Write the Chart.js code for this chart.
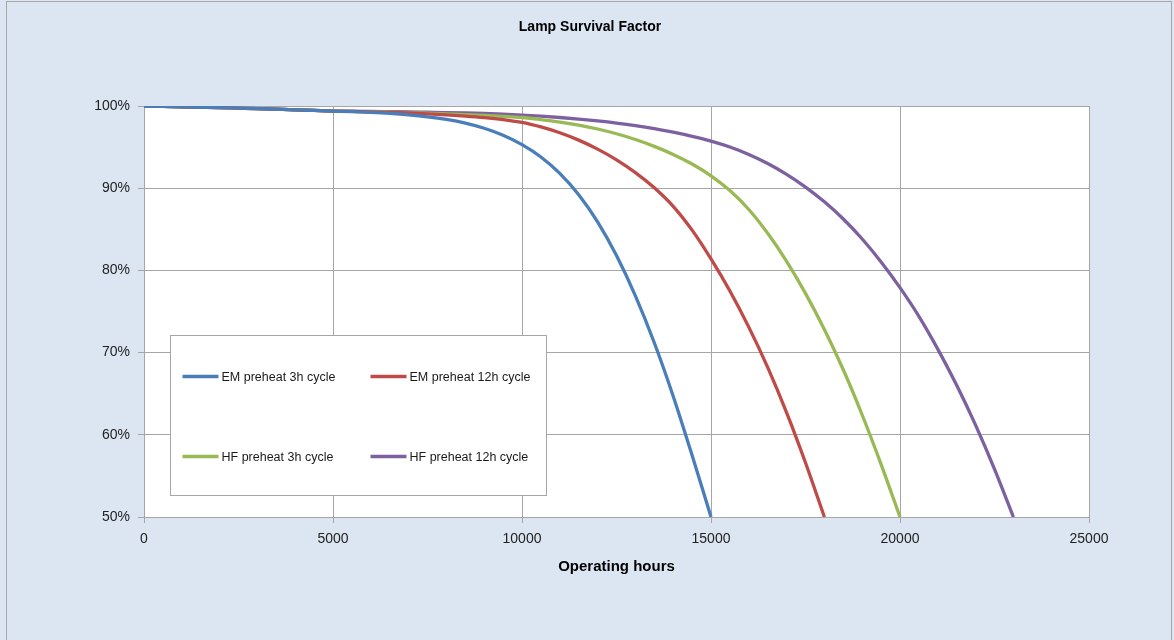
<!DOCTYPE html>
<html lang="en">
<head>
  <meta charset="UTF-8" />
  <title>Lamp Survival Factor</title>
  <script src="https://cdn.jsdelivr.net/npm/chart.js"></script>
  <style>
    html, body { margin: 0; padding: 0; background: #dce6f2; }
    #wrap { width: 1174px; height: 640px; }
  </style>
</head>
<body>

<div id="wrap"><canvas id="survivalChart" width="1174" height="640"></canvas></div>

<script>
  // operating hours, every 500 h
  const hours = [
    0, 500, 1000, 1500, 2000, 2500, 3000, 3500, 4000, 4500, 5000,
    5500, 6000, 6500, 7000, 7500, 8000, 8500, 9000, 9500, 10000,
    10500, 11000, 11500, 12000, 12500, 13000, 13500, 14000, 14500, 15000,
    15500, 16000, 16500, 17000, 17500, 18000, 18500, 19000, 19500, 20000,
    20500, 21000, 21500, 22000, 22500, 23000
  ];

  // survival in % (each series stops at 50 %)
  const emPreheat3h = [
    100, 99.95, 99.9, 99.85, 99.8, 99.74, 99.68, 99.61, 99.54, 99.46, 99.38,
    99.31, 99.22, 99.1, 98.93, 98.69, 98.36, 97.91, 97.29, 96.44, 95.3,
    93.8, 91.8, 89.2, 85.9, 81.8, 76.9, 71.2, 64.7, 57.5, 50
  ];
  const emPreheat12h = [
    100, 99.95, 99.9, 99.85, 99.8, 99.74, 99.68, 99.61, 99.54, 99.46, 99.38,
    99.34, 99.29, 99.23, 99.15, 99.05, 98.93, 98.78, 98.59, 98.34, 98.0,
    97.45, 96.75, 95.85, 94.75, 93.45, 91.9, 90.05, 87.8, 84.9, 81.4,
    77.5, 73.1, 68.2, 62.7, 56.6, 50
  ];
  const hfPreheat3h = [
    100, 99.95, 99.9, 99.85, 99.8, 99.74, 99.68, 99.61, 99.54, 99.46, 99.38,
    99.35, 99.31, 99.26, 99.2, 99.13, 99.05, 98.96, 98.86, 98.74, 98.6,
    98.35, 98.05, 97.67, 97.2, 96.62, 95.92, 95.09, 94.11, 92.94, 91.51,
    89.71, 87.41, 84.51, 81.11, 77.21, 72.81, 67.91, 62.41, 56.41, 50
  ];
  const hfPreheat12h = [
    100, 99.95, 99.9, 99.85, 99.8, 99.74, 99.68, 99.61, 99.54, 99.46, 99.38,
    99.36, 99.34, 99.31, 99.28, 99.24, 99.2, 99.15, 99.09, 99.01, 98.9,
    98.76, 98.6, 98.41, 98.19, 97.93, 97.62, 97.25, 96.81, 96.31, 95.73,
    95.01, 94.11, 93.01, 91.69, 90.14, 88.34, 86.25, 83.82, 81.03, 77.9,
    74.41, 70.42, 66.02, 61.17, 55.82, 50
  ];

  const seriesNames = ['EM preheat 3h cycle', 'EM preheat 12h cycle', 'HF preheat 3h cycle', 'HF preheat 12h cycle'];
  const seriesValues = [emPreheat3h, emPreheat12h, hfPreheat3h, hfPreheat12h];
  const seriesColors = ['#4a7ebb', '#be4b48', '#98b954', '#7d60a0'];

  const xTicks = [0, 5000, 10000, 15000, 20000, 25000];
  const yTicks = [50, 60, 70, 80, 90, 100];
  const chartTitle = 'Lamp Survival Factor';

  const FONT = "'Liberation Sans', Arial, sans-serif";
  const GRID = '#a6a6a6';

  // background, outer frame, white plot area and the title
  const frame = {
    id: 'frame',
    beforeDraw(chart) {
      const { ctx, chartArea: a, width, height } = chart;
      ctx.save();
      ctx.fillStyle = '#dce6f2';
      ctx.fillRect(0, 0, width, height);
      ctx.strokeStyle = GRID;
      ctx.lineWidth = 1;
      ctx.strokeRect(6.5, 1.5, width - 9, height + 10);
      ctx.fillStyle = '#ffffff';
      ctx.fillRect(a.left, a.top, a.right - a.left, a.bottom - a.top);
      ctx.fillStyle = '#000';
      ctx.font = 'bold 14px ' + FONT;
      ctx.textAlign = 'center';
      ctx.textBaseline = 'middle';
      ctx.fillText(chartTitle, width / 2 + 3, 27);
      ctx.restore();
    }
  };

  // boxed legend inside the plot, two columns
  const boxLegend = {
    id: 'boxLegend',
    afterDatasetsDraw(chart) {
      const { ctx, chartArea: a } = chart;
      const x0 = Math.round(a.left + 26) + 0.5;
      const y0 = Math.round(a.top + 229) + 0.5;
      ctx.save();
      ctx.fillStyle = '#ffffff';
      ctx.fillRect(x0, y0, 376, 160);
      ctx.strokeStyle = GRID;
      ctx.lineWidth = 1;
      ctx.strokeRect(x0, y0, 376, 160);
      ctx.font = '12.5px ' + FONT;
      ctx.textBaseline = 'middle';
      ctx.fillStyle = '#1a1a1a';
      chart.data.datasets.forEach((ds, i) => {
        const lx = x0 + 12 + (i % 2) * 188;
        const ly = y0 + 41 + Math.floor(i / 2) * 80;
        ctx.strokeStyle = ds.borderColor;
        ctx.lineWidth = 3.5;
        ctx.beginPath();
        ctx.moveTo(lx, ly);
        ctx.lineTo(lx + 36, ly);
        ctx.stroke();
        ctx.fillText(ds.label, lx + 39, ly + 1);
      });
      ctx.restore();
    }
  };

  const datasets = seriesNames.map((name, i) => ({
    label: name,
    data: seriesValues[i].map((v, j) => ({ x: hours[j], y: v })),
    borderColor: seriesColors[i],
    backgroundColor: seriesColors[i],
    borderWidth: 3.3,
    pointRadius: 0,
    fill: false,
    cubicInterpolationMode: 'monotone'
  }));

  new Chart(document.getElementById('survivalChart'), {
    type: 'line',
    data: { datasets },
    plugins: [frame, boxLegend],
    options: {
      responsive: false,
      animation: false,
      devicePixelRatio: 1,
      layout: { padding: { left: 0, right: 85, top: 106, bottom: 60 } },
      plugins: {
        legend: { display: false },
        tooltip: { enabled: false },
        title: { display: false }
      },
      scales: {
        x: {
          type: 'linear',
          min: xTicks[0],
          max: xTicks[xTicks.length - 1],
          afterBuildTicks: s => { s.ticks = xTicks.map(v => ({ value: v })); },
          afterFit: s => { s.height = 63; },
          ticks: { color: '#222', padding: 8, font: { family: FONT, size: 14 }, callback: v => String(v) },
          grid: { color: GRID, tickLength: 6 },
          border: { color: GRID },
          title: {
            display: true,
            text: 'Operating hours',
            color: '#000',
            font: { family: FONT, size: 15, weight: 'bold' },
            padding: { top: 6, bottom: 4 }
          }
        },
        y: {
          min: yTicks[0],
          max: yTicks[yTicks.length - 1],
          afterBuildTicks: s => { s.ticks = yTicks.map(v => ({ value: v })); },
          afterFit: s => { s.width = 144; },
          ticks: { color: '#222', padding: 8, font: { family: FONT, size: 14 }, callback: v => v + '%' },
          grid: { color: GRID, tickLength: 6 },
          border: { color: GRID }
        }
      }
    }
  });
</script>

</body>
</html>
